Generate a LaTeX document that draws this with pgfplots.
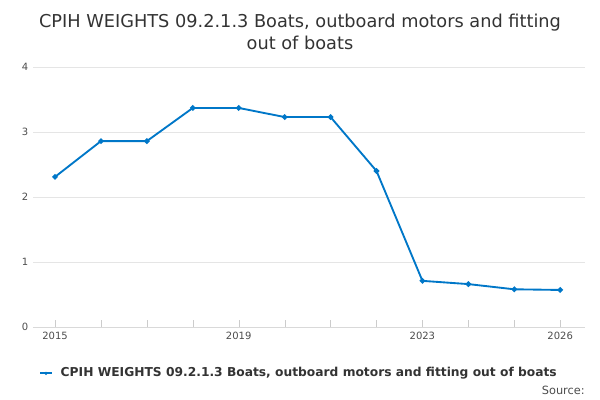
\documentclass[border=0pt]{standalone}
\usepackage{pgfplots}
\pgfplotsset{compat=1.18}
\usepackage{fontspec}
\setmainfont{DejaVu Sans}
\definecolor{ln}{HTML}{0077C8}
\begin{document}
\begin{tikzpicture}[x=1pt,y=1pt]
\path (0,0) rectangle (450,300);
\begin{axis}[at={(24.75pt,54.75pt)},anchor=south west,scale only axis,
 width=414pt,height=195pt,xmin=2014.52,xmax=2026.54,ymin=0,ymax=4,
 axis line style={draw=none},
 axis x line*=bottom, x axis line style={draw=gray!30},
 ytick={0,1,2,3,4},ymajorgrids,grid style={gray!20},
 xtick={2015,...,2026},xticklabels={2015,,,,2019,,,,2023,,,2026},
 major tick length=5pt,tick style={draw=gray!40},
 ytick style={draw=none},
 tick label style={font=\fontsize{7.5}{9}\selectfont,text=black!70},
 /pgf/number format/assume math mode=true,
 /pgf/number format/1000 sep={}]
\addplot[ln,line width=1.4pt,mark=*,mark size=1.3pt] coordinates {
(2015,2.31)(2016,2.86)(2017,2.86)(2018,3.37)(2019,3.37)(2020,3.23)(2021,3.23)(2022,2.40)(2023,0.71)(2024,0.66)(2025,0.58)(2026,0.57)};
\end{axis}
\node[font=\fontsize{13.3}{16.5}\selectfont,text=black!80,align=center] at (225,276) {CPIH WEIGHTS 09.2.1.3 Boats, outboard motors and fitting\\out of boats};
\draw[ln,line width=1.4pt] (30,20) -- (39,20);
\fill[ln] (34.5,20) circle (1.3pt);
\node[anchor=west,font=\fontsize{9.2}{11}\selectfont\bfseries,text=black!80] at (42,20) {CPIH WEIGHTS 09.2.1.3 Boats, outboard motors and fitting out of boats};
\node[anchor=east,font=\fontsize{8.5}{10}\selectfont,text=black!70] at (442,7.5) {Source:};
\end{tikzpicture}
\end{document}
